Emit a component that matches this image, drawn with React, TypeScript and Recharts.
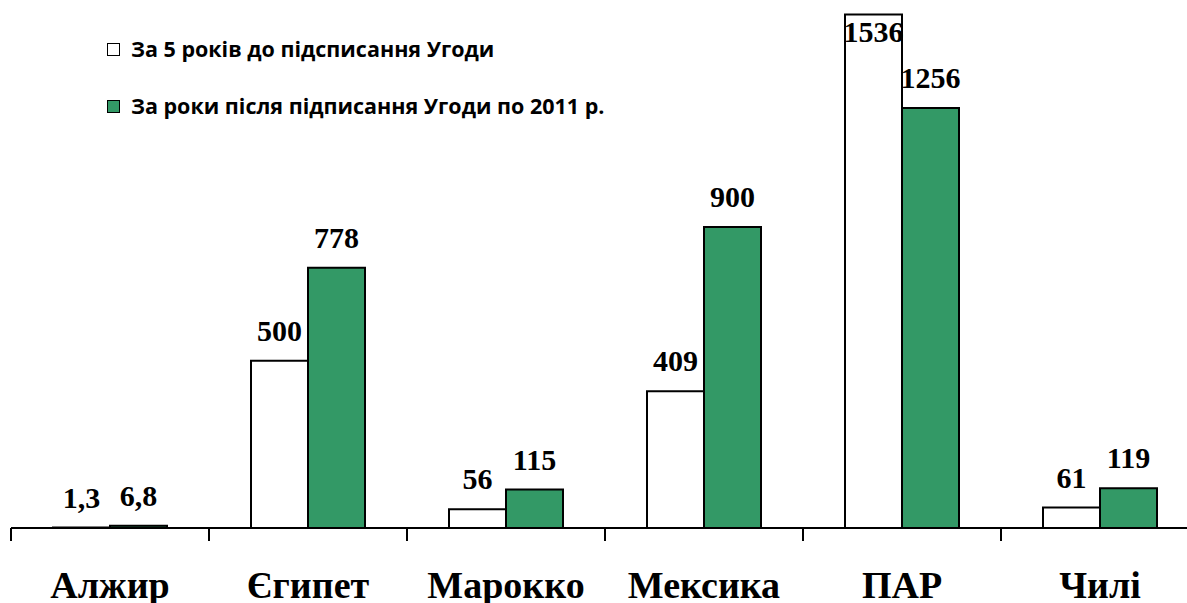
import React from 'react';
import { BarChart, Bar, XAxis, YAxis, Legend, LabelList } from 'recharts';

const categories = ['Алжир', 'Єгипет', 'Марокко', 'Мексика', 'ПАР', 'Чилі'];
const beforeValues = [1.3, 500, 56, 409, 1536, 61];
const afterValues = [6.8, 778, 115, 900, 1256, 119];
const seriesNames = [
  'За 5 років до підсписання Угоди',
  'За роки після підписання Угоди по 2011 р.',
];

const data = categories.map((name, i) => ({
  name,
  before: beforeValues[i],
  after: afterValues[i],
}));

const GREEN = '#339966';
const serif = '"Liberation Serif", "Times New Roman", serif';

const fmt = (v: number) => String(v).replace('.', ',');

const ValueLabel = (props: any) => {
  const { x, y, width, value } = props;
  const ty = Math.max(y - 20, 42);
  return (
    <text
      x={x + width / 2}
      y={ty}
      textAnchor="middle"
      fontFamily={serif}
      fontWeight="bold"
      fontSize={30}
      fill="#000"
    >
      {fmt(value)}
    </text>
  );
};

const CategoryTick = (props: any) => {
  const { x, y, payload, index, visibleTicksCount } = props;
  const half = payload.offset || 0;
  const last = index === visibleTicksCount - 1;
  return (
    <g>
      <line x1={x - half} y1={y} x2={x - half} y2={y + 13} stroke="#000" strokeWidth={2} />
      {last && <line x1={x + half} y1={y} x2={x + half} y2={y + 13} stroke="#000" strokeWidth={2} />}
      <text
        x={x}
        y={y + 70}
        textAnchor="middle"
        fontFamily={serif}
        fontWeight="bold"
        fontSize={38}
        fill="#000"
      >
        {payload.value}
      </text>
    </g>
  );
};

const LegendBox = () => (
  <div style={{ fontFamily: '"Open Sans", Lato, sans-serif', fontWeight: 'bold', fontSize: 21.5, color: '#000', lineHeight: '26px' }}>
    {seriesNames.map((n, i) => (
      <div key={n} style={{ display: 'flex', alignItems: 'center', height: 26, marginBottom: i === 0 ? 31 : 0 }}>
        <span
          style={{
            display: 'inline-block',
            width: 11,
            height: 11,
            border: '1.5px solid #000',
            background: i === 0 ? '#fff' : GREEN,
            marginRight: 11,
          }}
        />
        <span>{n}</span>
      </div>
    ))}
  </div>
);

export default function App() {
  return (
    <div style={{ position: 'absolute', left: 0, top: 0, width: 1187, height: 603, overflow: 'hidden', background: '#fff' }}>
      <BarChart
        width={1210}
        height={603}
        data={data}
        margin={{ top: 0, right: 11, left: 11, bottom: 0 }}
        barCategoryGap={42}
        barGap={0}
      >
        <XAxis
          dataKey="name"
          height={75}
          axisLine={{ stroke: '#000', strokeWidth: 2 }}
          tickLine={false}
          tickSize={0}
          tickMargin={0}
          tick={<CategoryTick />}
          interval={0}
        />
        <YAxis hide domain={[0, 1579]} />
        <Legend
          layout="vertical"
          align="center"
          verticalAlign="middle"
          wrapperStyle={{ top: 36, left: 107, width: 'auto', height: 'auto' }}
          content={<LegendBox />}
        />
        <Bar dataKey="before" name={seriesNames[0]} fill="#fff" stroke="#000" strokeWidth={2} isAnimationActive={false}>
          <LabelList dataKey="before" content={<ValueLabel />} />
        </Bar>
        <Bar dataKey="after" name={seriesNames[1]} fill={GREEN} stroke="#000" strokeWidth={2} isAnimationActive={false}>
          <LabelList dataKey="after" content={<ValueLabel />} />
        </Bar>
      </BarChart>
    </div>
  );
}
